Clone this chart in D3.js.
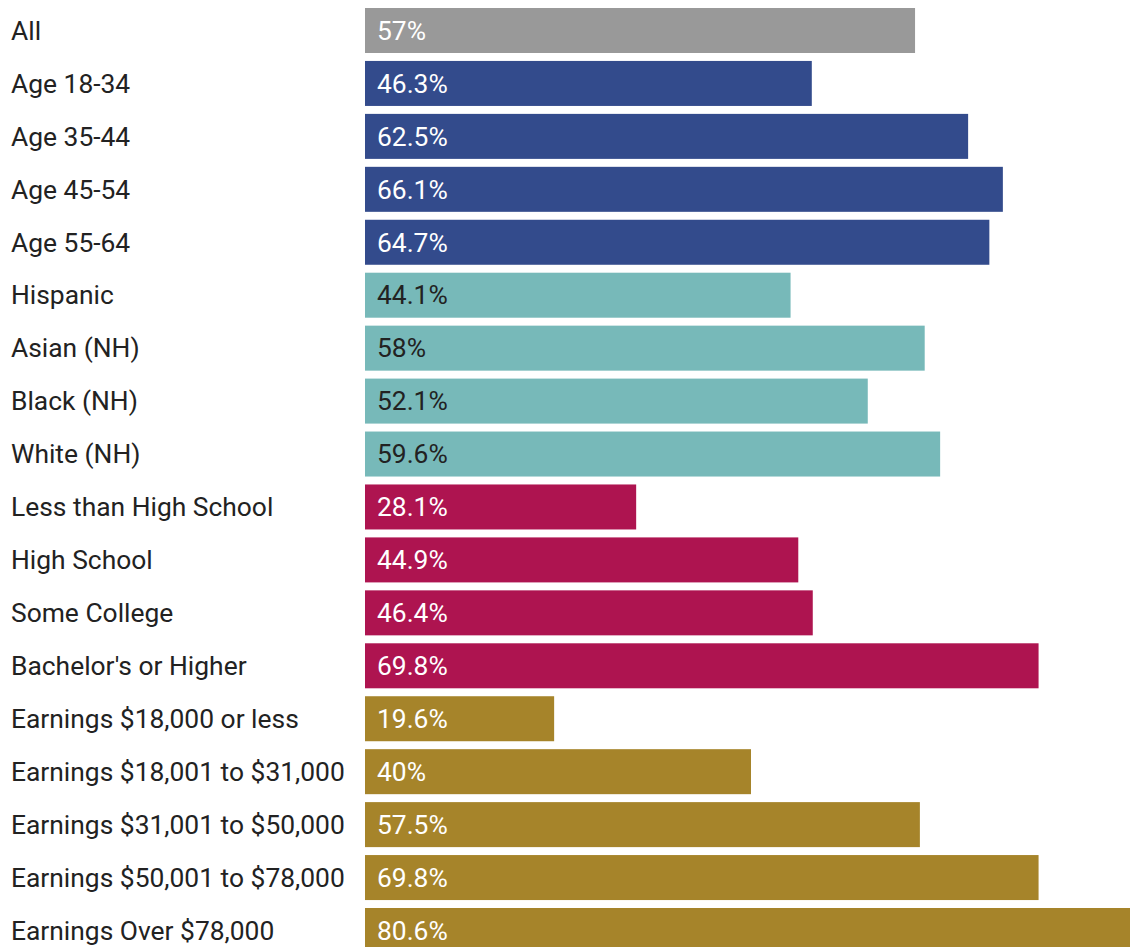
<!DOCTYPE html>
<html>
<head>
<meta charset="utf-8">
<script src="https://cdn.jsdelivr.net/npm/d3@7"></script>
<style>
  html, body { margin: 0; padding: 0; background: #fff; overflow: hidden; }
  svg { display: block; }
</style>
</head>
<body>
<div id="chart"></div>
<script>
const categories = [
  "All", "Age 18-34", "Age 35-44", "Age 45-54", "Age 55-64",
  "Hispanic", "Asian (NH)", "Black (NH)", "White (NH)",
  "Less than High School", "High School", "Some College", "Bachelor's or Higher",
  "Earnings $18,000 or less", "Earnings $18,001 to $31,000", "Earnings $31,001 to $50,000",
  "Earnings $50,001 to $78,000", "Earnings Over $78,000"
];
const values = [57, 46.3, 62.5, 66.1, 64.7, 44.1, 58, 52.1, 59.6, 28.1, 44.9, 46.4, 69.8, 19.6, 40, 57.5, 69.8, 80.6];
const groups = ["All", "Age", "Age", "Age", "Age", "Race", "Race", "Race", "Race",
  "Edu", "Edu", "Edu", "Edu", "Earn", "Earn", "Earn", "Earn", "Earn"];
const groupNames = ["All", "Age", "Race", "Edu", "Earn"];
const groupColors = ["#999999", "#334b8c", "#77b9b9", "#ae1450", "#a6842a"];
const groupTextColors = ["#ffffff", "#ffffff", "#222222", "#ffffff", "#ffffff"];

const data = categories.map((c, i) => ({ cat: c, val: values[i], grp: groups[i] }));

const W = 1130, H = 947;
const barLeft = 365;
const step = 900 / 17;
const barH = 45;
const n = categories.length;

const svg = d3.select("#chart").append("svg").attr("width", W).attr("height", H);

const x = d3.scaleLinear().domain([0, 100]).range([0, 965]);
const y = d3.scaleBand().domain(categories)
  .range([8, 8 + step * (n - 1) + barH])
  .paddingInner((step - barH) / step).paddingOuter(0).align(0);
const color = d3.scaleOrdinal().domain(groupNames).range(groupColors);
const tcolor = d3.scaleOrdinal().domain(groupNames).range(groupTextColors);

const row = svg.selectAll("g.row").data(data).enter().append("g").attr("class", "row");

row.append("text")
  .attr("x", 11)
  .attr("y", d => y(d.cat) + y.bandwidth() / 2)
  .attr("dy", "0.35em")
  .attr("font-family", "Roboto, sans-serif")
  .attr("font-size", 26.4)
  .attr("fill", "#222")
  .text(d => d.cat);

row.append("rect")
  .attr("x", barLeft)
  .attr("y", d => y(d.cat))
  .attr("width", d => x(d.val))
  .attr("height", y.bandwidth())
  .attr("fill", d => color(d.grp));

row.append("text")
  .attr("x", barLeft + 12)
  .attr("y", d => y(d.cat) + y.bandwidth() / 2)
  .attr("dy", "0.35em")
  .attr("font-family", "Roboto, sans-serif")
  .attr("font-size", 26.4)
  .attr("fill", d => tcolor(d.grp))
  .text(d => d.val + "%");
</script>
</body>
</html>
